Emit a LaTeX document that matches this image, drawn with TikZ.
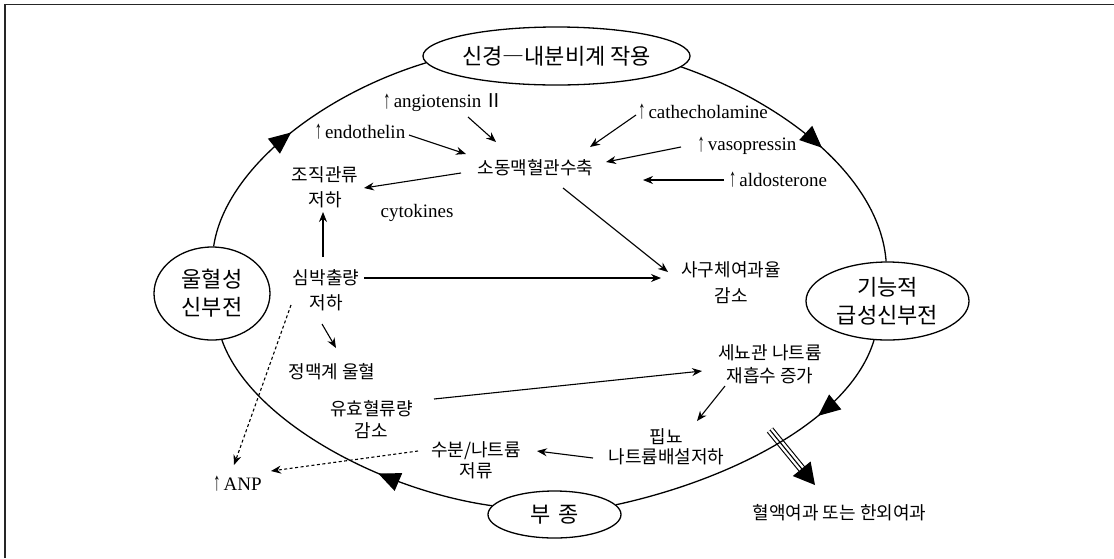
\documentclass[tikz,border=0pt]{standalone}
\usepackage{fontspec}
\setmainfont{Liberation Serif}
\newfontfamily\kr{Noto Sans CJK KR}
\usetikzlibrary{shapes.geometric,arrows.meta,decorations.markings,calc}
\newcommand{\upar}{\raisebox{-0.5pt}{\scalebox{0.75}[1.35]{↑}}}
\begin{document}
\begin{tikzpicture}[x=1pt,y=1pt,
  cyc/.style={line width=1.3pt, decoration={markings, mark=at position #1 with {\arrow{Triangle[length=22pt,width=19pt]}}}, postaction={decorate}},
  bignode/.style={ellipse, draw, line width=1.3pt, inner sep=0pt, align=center, font=\kr\fontsize{22}{28}\selectfont},
  kor/.style={inner sep=2pt, align=center, font=\kr\fontsize{18}{24}\selectfont},
  lat/.style={inner sep=2pt, font=\fontsize{19}{22}\selectfont},
  conn/.style={line width=1.1pt, -{Stealth[length=10pt,width=8pt]}},
  dconn/.style={conn, dash pattern=on 3pt off 2.5pt}
]
\useasboundingbox (0,0) rectangle (1114,-558);
\draw[line width=1.2pt, black!85] (5,-558) -- (5,-4.5) -- (1114,-4.5);

% main cycle nodes
\node[bignode, minimum width=267pt, minimum height=58pt] (top) at (556.5,-56) {신경―내분비계 작용};
\node[bignode, minimum width=116pt, minimum height=93pt] (left) at (212,-293.5) {울혈성\\신부전};
\node[bignode, minimum width=163pt, minimum height=78pt] (right) at (887.5,-301) {기능적\\급성신부전};
\node[bignode, minimum width=133pt, minimum height=47pt] (bottom) at (554.5,-514.5) {부\hspace{8pt}종};

% inner nodes
\node[lat] (ang) at (443.5,-103) {\upar\,angiotensin\,{\kr Ⅱ}};
\node[lat] (endo) at (360,-132) {\upar\,endothelin};
\node[kor] (sdm) at (535.5,-168) {소동맥혈관수축};
\node[kor, font=\kr\fontsize{18}{25}\selectfont] (tissue) at (325,-187.5) {조직관류\\저하};
\node[lat] (cyto) at (417,-213) {cytokines};
\node[lat] (cat) at (703,-112) {\upar\,cathecholamine};
\node[lat] (vaso) at (747,-146) {\upar\,vasopressin};
\node[lat] (aldo) at (778,-180) {\upar\,aldosterone};
\node[kor, font=\kr\fontsize{18}{25}\selectfont] (co) at (326,-290.5) {심박출량\\저하};
\node[kor, font=\kr\fontsize{18}{26}\selectfont] (gfr) at (731,-283) {사구체여과율\\감소};
\node[kor] (vc) at (332,-372) {정맥계 울혈};
\node[kor, font=\kr\fontsize{18}{22}\selectfont] (eff) at (371.5,-420) {유효혈류량\\감소};
\node[kor, font=\kr\fontsize{18}{21}\selectfont] (fluid) at (476,-460.5) {수분/나트륨\\저류};
\node[lat] (anp) at (237.5,-484) {\upar\,ANP};
\node[kor, font=\kr\fontsize{18}{23}\selectfont] (na) at (770,-364.5) {세뇨관 나트륨\\재흡수 증가};
\node[kor, font=\kr\fontsize{18}{20}\selectfont] (olig) at (666.5,-447) {핍뇨\\나트륨배설저하};
\node[kor] (hf) at (839.5,-513) {혈액여과 또는 한외여과};

% connectors
\draw[conn] ([shift={(49,-3)}]endo.center) -- ([shift={(-69.5,14)}]sdm.center);
\draw[conn] ([shift={(24.5,-14)}]ang.center) -- ([shift={(-39.5,26)}]sdm.center);
\draw[conn] ([shift={(-74.5,-5)}]sdm.center) -- ([shift={(39,-0.5)}]tissue.center);
\draw[conn] ([shift={(-3,33.5)}]co.center) -- ([shift={(-2,-24.5)}]tissue.center);
\draw[conn] ([shift={(-67,-3)}]cat.center) -- ([shift={(54.5,21)}]sdm.center);
\draw[conn] ([shift={(-66,-1)}]vaso.center) -- ([shift={(70.5,6)}]sdm.center);
\coordinate (aldoend) at (643,-180);
\draw[conn] ([shift={(-54,0)}]aldo.center) -- (aldoend);
\draw[conn] ([shift={(27.5,-20)}]sdm.center) -- ([shift={(-63,11)}]gfr.center);
\draw[conn] ([shift={(38,12.5)}]co.center) -- ([shift={(-70,5)}]gfr.center);
\draw[conn] ([shift={(-4,-33.5)}]co.center) -- ([shift={(4,24)}]vc.center);
\draw[dconn] ([shift={(-35,-14.5)}]co.center) -- ([shift={(-3.5,19)}]anp.center);
\draw[dconn] ([shift={(-58,9.5)}]fluid.center) -- ([shift={(33.5,13)}]anp.center);
\draw[conn] ([shift={(62.5,21)}]eff.center) -- ([shift={(-68,-6.5)}]na.center);
\draw[conn] ([shift={(-45,-21.5)}]na.center) -- ([shift={(30.5,26)}]olig.center);
\draw[conn] ([shift={(-73.5,-11)}]olig.center) -- ([shift={(61,9.5)}]fluid.center);

% triple arrow
\coordinate (tstart) at (770,-430);
\coordinate (ttip) at ([shift={(-24.5,28)}]hf.center);
\coordinate (tbase) at ($(ttip)!21pt!(tstart)$);
\coordinate (tend) at ($(ttip)!19pt!(tstart)$);
\draw[line width=8pt] (tstart) -- (tend);
\draw[line width=5.8pt, white] (tstart) -- (tend);
\draw[line width=1.1pt] (tstart) -- (tend);
\fill ($(tbase)!11.5pt!90:(ttip)$) -- (ttip) -- ($(tbase)!11.5pt!-90:(ttip)$) -- cycle;

% cycle arcs
\draw[cyc=0.48] (left.88) .. controls (225,-170) and (320,-95) .. (top.183);
\draw[cyc=0.55] (top.-5) .. controls (790,-105) and (880,-180) .. (right.92);
\draw[cyc=0.3] (right.251) .. controls (850,-420) and (730,-480) .. (bottom.9);
\draw[cyc=0.36] (bottom.172) .. controls (380,-490) and (250,-420) .. (left.282);
\end{tikzpicture}
\end{document}
